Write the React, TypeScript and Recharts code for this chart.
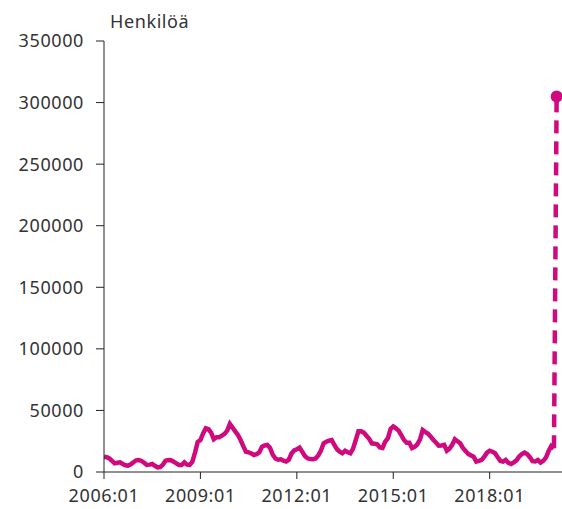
import React from 'react'
import { LineChart, Line, XAxis, YAxis } from 'recharts'

// monthly values, 2006:01 .. 2020:01
const observed: number[] = [
  // 2006
  12500, 12000, 11100, 9000, 7000, 7500, 7900, 6500, 5500, 5100, 6200, 7900,
  // 2007
  9500, 9800, 9000, 7500, 5700, 6000, 6500, 5000, 3800, 4000, 6000, 9200,
  // 2008
  9800, 9500, 8400, 7000, 5700, 5700, 7900, 6000, 5800, 8400, 16000, 24500,
  // 2009
  26000, 31400, 35500, 34700, 32000, 26600, 28200, 28200, 29500, 31000, 33600, 39000,
  // 2010
  36000, 33000, 30100, 26000, 21000, 16500, 16000, 15000, 13800, 14500, 16000, 20600,
  // 2011
  21500, 22000, 19500, 14000, 11000, 10000, 10300, 9200, 8500, 10000, 15000, 17500,
  // 2012
  18400, 19800, 16500, 13000, 11100, 10500, 10300, 11000, 13500, 17500, 23300, 24500,
  // 2013
  25500, 26000, 22000, 18500, 16500, 15200, 17300, 16000, 15200, 19000, 26000, 33000,
  // 2014
  33000, 32000, 29500, 27000, 23300, 23000, 22500, 20000, 19500, 24700, 27500, 35000,
  // 2015
  37000, 35500, 33600, 30000, 26000, 23800, 23800, 19500, 20500, 22500, 26500, 34100,
  // 2016
  32500, 31000, 28700, 26000, 23800, 21400, 21500, 22000, 17300, 19000, 22000, 26600,
  // 2017
  25000, 23300, 19500, 17000, 14600, 13500, 12500, 8400, 9000, 9800, 12500, 15700,
  // 2018
  17300, 16500, 15200, 12000, 9000, 8400, 9800, 7500, 6500, 7800, 9500, 12500,
  // 2019
  14500, 15700, 14500, 12000, 8800, 8600, 9800, 7600, 9000, 11700, 17000, 21100,
  // 2020
  19200,
]

// latest estimate, drawn dashed
const latestEstimate = 305000

const xTickIndex = [0, 36, 72, 108, 144]
const xTickLabels = ['2006:01', '2009:01', '2012:01', '2015:01', '2018:01']
const yTicks = [0, 50000, 100000, 150000, 200000, 250000, 300000, 350000]

const COLOR = '#cf0a7e'
const FONT = '"Noto Sans", sans-serif'

const lastObs = observed.length - 1
const data = [...observed, latestEstimate].map((v, i) => ({
  i,
  value: i <= lastObs ? v : null,
  estimate: i >= lastObs ? v : null,
}))

const EndDot = (props: any) => {
  const { cx, cy, index } = props
  if (index !== data.length - 1 || cx == null) return null
  return <circle key="end" cx={cx} cy={cy} r={6} fill={COLOR} />
}

export default function App() {
  const tickStyle = { fontSize: 18, fill: '#333', fontFamily: FONT, letterSpacing: 0.6 }
  return (
    <div style={{ position: 'absolute', left: 0, top: 0, width: 562, height: 509, background: '#fff' }}>
      <div
        style={{
          position: 'absolute',
          left: 110,
          top: 9,
          fontFamily: FONT,
          fontSize: 18,
          letterSpacing: 0.6,
          color: '#333',
          lineHeight: '24px',
        }}
      >
        Henkilöä
      </div>
      <LineChart width={562} height={509} data={data} margin={{ top: 41, right: 0, bottom: 0, left: 0 }}>
        <XAxis
          dataKey="i"
          type="number"
          domain={[0, 171]}
          ticks={xTickIndex}
          tickFormatter={(v) => xTickLabels[xTickIndex.indexOf(v)] ?? ''}
          height={37}
          tickSize={7}
          tickMargin={10}
          tick={tickStyle}
          stroke="#222"
          allowDataOverflow
        />
        <YAxis
          type="number"
          domain={[0, 350000]}
          ticks={yTicks}
          width={104}
          tickSize={8}
          tickMargin={12}
          tick={tickStyle}
          stroke="#222"
          interval={0}
        />
        <Line
          type="linear"
          dataKey="value"
          stroke={COLOR}
          strokeWidth={4.5}
          dot={false}
          activeDot={false}
          isAnimationActive={false}
          connectNulls={false}
        />
        <Line
          type="linear"
          dataKey="estimate"
          stroke={COLOR}
          strokeWidth={4.5}
          strokeDasharray="13 8"
          dot={EndDot}
          activeDot={false}
          isAnimationActive={false}
          connectNulls={false}
        />
      </LineChart>
    </div>
  )
}
